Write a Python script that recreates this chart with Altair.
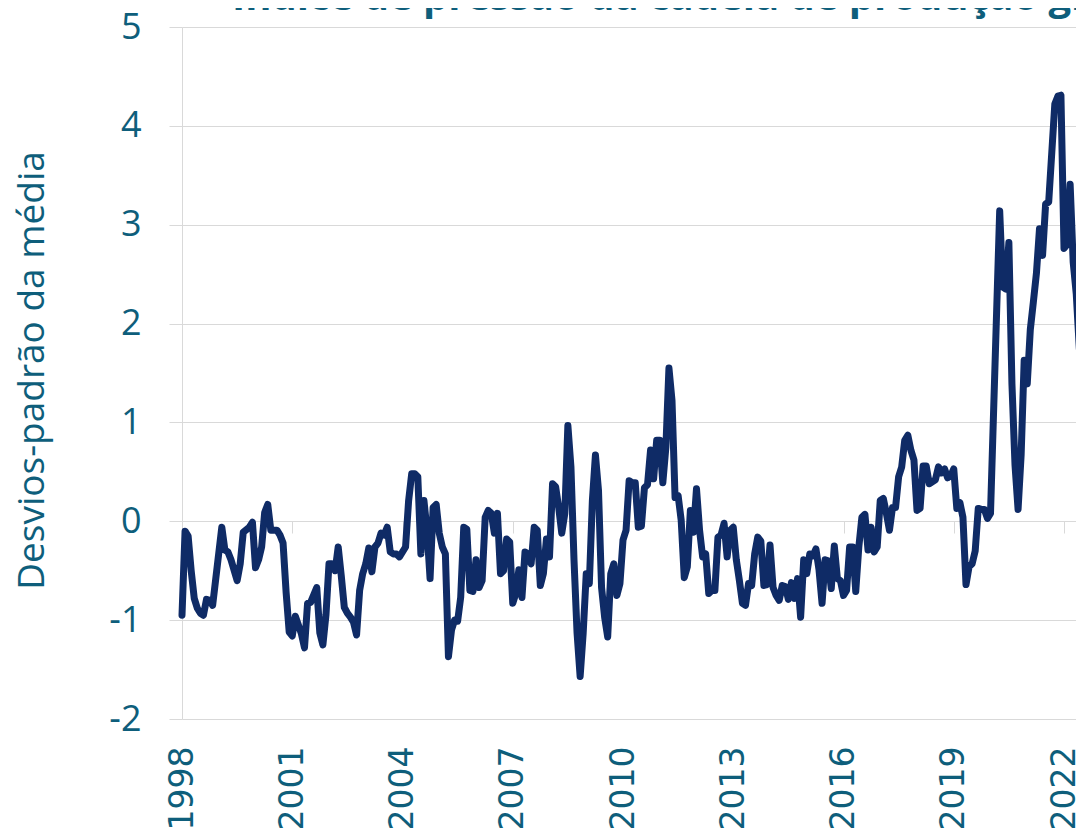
import altair as alt
import pandas as pd

TITLE = "Índice de pressão da cadeia de produção global"
Y_TITLE = "Desvios-padrão da média"
x_tick_years = [1998, 2001, 2004, 2007, 2010, 2013, 2016, 2019, 2022]
y_ticks = [-2, -1, 0, 1, 2, 3, 4, 5]

# Monthly values (Jan..Dec); None = not read
v1998 = [-0.95, -0.10, -0.15, -0.50, -0.78, -0.88, -0.93, -0.95, -0.79, -0.80, -0.85, None]
v1999 = [None, -0.06, -0.29, -0.31, -0.39, None, -0.60, -0.43, -0.11, None, -0.06, -0.01]
v2000 = [-0.47, -0.39, -0.26, 0.09, 0.17, -0.09, None, -0.09, -0.14, -0.22, -0.72, -1.12]
v2001 = [-1.16, -0.96, None, -1.14, -1.28, -0.83, -0.82, None, -0.67, -1.13, -1.25, -0.95]
v2002 = [-0.43, -0.43, -0.50, -0.26, -0.55, -0.87, -0.93, -0.97, -1.02, -1.15, -0.70, -0.53]
v2003 = [-0.43, -0.27, -0.51, -0.26, -0.22, -0.12, -0.14, -0.06, -0.31, -0.33, -0.33, -0.36]
v2004 = [None, -0.26, 0.21, 0.48, 0.48, 0.45, -0.33, 0.21, -0.09, -0.58, 0.14, 0.17]
v2005 = [-0.12, -0.26, -0.33, -1.37, -1.10, -1.00, -1.01, -0.77, -0.06, -0.08, -0.70, -0.71]
v2006 = [-0.39, -0.67, -0.60, 0.04, 0.11, 0.08, -0.12, 0.08, -0.53, -0.50, -0.18, -0.21]
v2007 = [-0.83, -0.73, -0.49, -0.77, -0.31, -0.33, -0.43, -0.06, -0.09, -0.65, -0.53, -0.18]
v2008 = [-0.36, 0.38, 0.35, 0.14, -0.12, 0.08, 0.97, 0.55, -0.39, -1.13, -1.57, -1.13]
v2009 = [-0.53, -0.63, 0.21, 0.67, 0.31, -0.67, -0.97, -1.17, -0.53, -0.43, -0.75, -0.63]
v2010 = [-0.19, -0.09, 0.41, 0.39, 0.39, -0.06, -0.05, 0.34, 0.37, 0.72, 0.43, 0.82]
v2011 = [0.82, 0.39, 0.75, 1.55, 1.22, 0.24, 0.26, 0.01, -0.57, -0.46, 0.11, -0.11]
v2012 = [0.33, -0.09, -0.36, -0.33, -0.73, -0.70, -0.70, -0.16, -0.14, -0.02, -0.36, -0.09]
v2013 = [-0.06, -0.39, -0.60, -0.83, -0.85, -0.63, -0.65, -0.33, -0.16, -0.20, -0.65, -0.64]
v2014 = [-0.24, -0.67, -0.75, -0.80, -0.65, -0.66, -0.79, -0.62, -0.78, -0.58, -0.97, -0.39]
v2015 = [-0.53, -0.33, -0.35, -0.28, -0.49, -0.83, -0.39, -0.40, -0.68, -0.25, -0.58, -0.60]
v2016 = [-0.75, -0.70, -0.26, -0.26, -0.71, -0.26, 0.04, 0.07, -0.29, -0.06, -0.31, -0.26]
v2017 = [0.21, 0.23, 0.08, -0.09, 0.14, 0.14, 0.45, 0.55, 0.82, 0.87, 0.72, 0.62]
v2018 = [0.11, 0.13, 0.56, 0.56, 0.38, 0.40, 0.42, 0.55, 0.49, 0.53, 0.44, 0.46]
v2019 = [0.53, 0.13, 0.19, 0.04, -0.64, -0.46, -0.43, -0.30, 0.13, 0.12, 0.12, 0.03]
v2020 = [0.08, None, None, 3.14, 2.37, 2.35, 2.82, 1.39, 0.57, 0.12, 0.67, 1.63]
v2021 = [1.39, 1.94, 2.22, 2.51, 2.96, 2.69, 3.21, 3.23, None, 4.22, 4.30, 4.31]
v2022 = [2.76, 2.80, 3.41, 2.62, 2.30, 1.75, 1.47]

series = {
    1998: v1998, 1999: v1999, 2000: v2000, 2001: v2001, 2002: v2002,
    2003: v2003, 2004: v2004, 2005: v2005, 2006: v2006, 2007: v2007,
    2008: v2008, 2009: v2009, 2010: v2010, 2011: v2011, 2012: v2012,
    2013: v2013, 2014: v2014, 2015: v2015, 2016: v2016, 2017: v2017,
    2018: v2018, 2019: v2019, 2020: v2020, 2021: v2021, 2022: v2022,
}

rows = []
for year, vals in series.items():
    for i, v in enumerate(vals):
        if v is not None:
            rows.append({"t": year + i / 12.0, "v": v})
df = pd.DataFrame(rows)

TEAL = "#0E5E7B"
NAVY = "#0F2B66"
GRID = "#D9D9D9"

PLOT_W = 894          # svg = 174 + 894 = 1068 px, fits the page body
PLOT_H = 692
X_END = 1998 + PLOT_W / (882.0 / 24.0)

x_scale = alt.Scale(domain=[1998, X_END], nice=False, zero=False)
y_scale = alt.Scale(domain=[-2, 5], nice=False, zero=False)

line = alt.Chart(df).mark_line(
    color=NAVY, strokeWidth=7, strokeJoin="round", strokeCap="round", clip=False
).encode(
    x=alt.X(
        "t:Q",
        scale=x_scale,
        title="",
        axis=alt.Axis(
            values=x_tick_years,
            labelExpr="'' + datum.value",
            orient="bottom",
            offset=-198,
            domainColor=GRID,
            domainWidth=1,
            tickColor=GRID,
            tickWidth=1,
            tickSize=12,
            labelAngle=-90,
            labelPadding=213,
            labelFont="DejaVu Sans",
            labelFontSize=33,
            labelColor=TEAL,
            labelFlush=False,
            labelOverlap=False,
            labelBound=False,
            grid=False,
        ),
    ),
    y=alt.Y(
        "v:Q",
        scale=y_scale,
        axis=alt.Axis(
            values=y_ticks,
            labelExpr="'' + datum.value",
            domainColor=GRID,
            domainWidth=1,
            tickColor=GRID,
            tickWidth=1,
            tickSize=13,
            grid=True,
            gridColor=GRID,
            gridWidth=1,
            labelFont="Open Sans",
            labelFontSize=36,
            labelColor=TEAL,
            labelPadding=28,
            labelFlush=False,
            title=Y_TITLE,
            titleFont="Open Sans",
            titleFontSize=37,
            titleFontWeight="normal",
            titleColor=TEAL,
            titleAngle=-90,
            titleX=-139,
            titleY=343,
            titleAlign="center",
            titleBaseline="alphabetic",
        ),
    ),
)

title_df = pd.DataFrame({"label": [TITLE]})
title_mark = alt.Chart(title_df).mark_text(
    align="left", baseline="alphabetic", font="Open Sans", fontSize=40,
    fontWeight="bold", color=TEAL
).encode(text="label:N", x=alt.value(50), y=alt.value(-17))

chart = alt.layer(line, title_mark).properties(
    width=PLOT_W,
    height=PLOT_H,
    autosize=alt.AutoSizeParams(type="none"),
    padding={"left": 174, "top": 19, "right": 0, "bottom": 113},
).configure_view(strokeWidth=0)

chart.save("out.html", embed_options={"renderer": "svg", "actions": False})
